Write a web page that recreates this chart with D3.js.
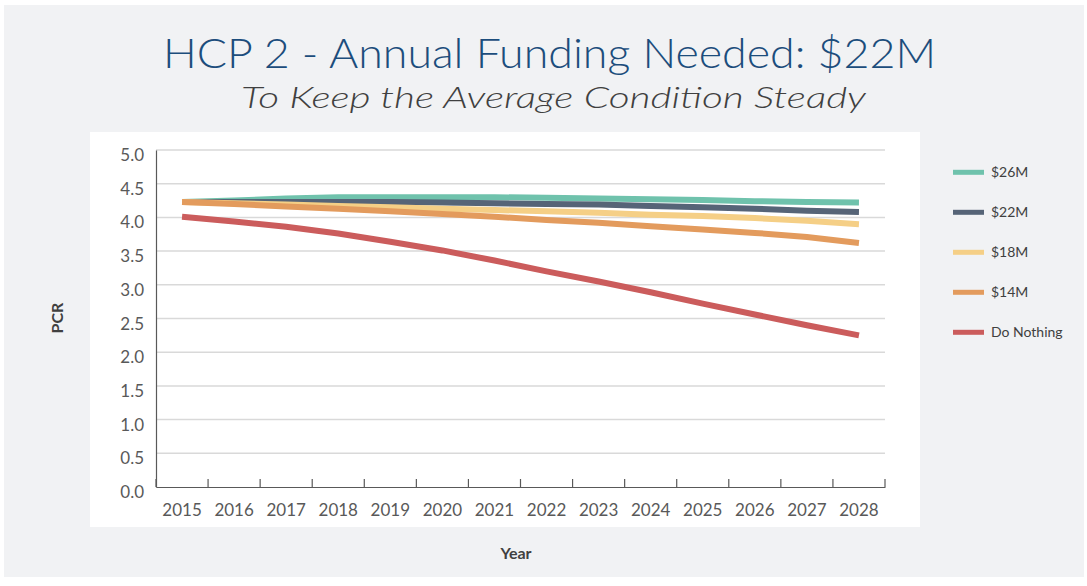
<!DOCTYPE html>
<html><head><meta charset="utf-8">
<script src="https://cdn.jsdelivr.net/npm/d3@7"></script>
<style>
html,body{margin:0;padding:0;background:#fff;}
svg{display:block;}
text{font-family:"Century Gothic","URW Gothic",Lato,"DejaVu Sans",sans-serif;}
</style></head>
<body>
<svg id="chart" width="1087" height="586"></svg>
<script>
const years = ["2015","2016","2017","2018","2019","2020","2021","2022","2023","2024","2025","2026","2027","2028"];
const yTicks = [0,0.5,1,1.5,2,2.5,3,3.5,4,4.5,5];
const seriesNames = ["$26M","$22M","$18M","$14M","Do Nothing"];
const seriesColors = ["#6fc2ac","#566477","#f5cf86","#e39b5d","#cb5c5c"];
const s26 = [4.23,4.25,4.28,4.30,4.30,4.30,4.30,4.29,4.28,4.27,4.26,4.24,4.23,4.22];
const s22 = [4.23,4.23,4.23,4.23,4.23,4.22,4.21,4.20,4.19,4.17,4.15,4.13,4.10,4.08];
const s18 = [4.23,4.21,4.19,4.17,4.15,4.13,4.11,4.09,4.07,4.04,4.02,3.99,3.95,3.90];
const s14 = [4.23,4.20,4.16,4.13,4.09,4.05,4.01,3.96,3.92,3.87,3.82,3.77,3.71,3.62];
const sNothing = [4.01,3.94,3.86,3.76,3.64,3.51,3.36,3.20,3.05,2.89,2.72,2.56,2.40,2.25];
const seriesValues = [s26,s22,s18,s14,sNothing];

const svg = d3.select("#chart");
// backgrounds
svg.append("rect").attr("x",4).attr("y",5).attr("width",1080).attr("height",572).attr("fill","#f1f2f4");
svg.append("rect").attr("x",90).attr("y",132).attr("width",830).attr("height",395).attr("fill","#ffffff");

// titles
svg.append("text").attr("x",549.5).attr("y",68).attr("text-anchor","middle")
  .attr("font-size",41).attr("font-weight",300).attr("fill","#1c4d7c")
  .attr("textLength",773).attr("lengthAdjust","spacingAndGlyphs")
  .text("HCP 2 - Annual Funding Needed: $22M");
svg.append("text").attr("x",553.5).attr("y",108).attr("text-anchor","middle")
  .attr("font-size",30).attr("font-weight",300).attr("font-style","italic").attr("fill","#404040")
  .attr("textLength",625).attr("lengthAdjust","spacingAndGlyphs")
  .text("To Keep the Average Condition Steady");

const x = d3.scaleBand().domain(years).range([156,885]);
const y = d3.scaleLinear().domain([0,5]).range([487,150]);

// gridlines
svg.append("g").selectAll("line").data(yTicks.filter(d=>d>0)).join("line")
  .attr("x1",156).attr("x2",885).attr("y1",d=>y(d)).attr("y2",d=>y(d))
  .attr("stroke","#d9d9d9").attr("stroke-width",1.5);

// y axis
const yAxis = svg.append("g").attr("transform","translate(156,0)")
  .call(d3.axisLeft(y).tickValues(yTicks).tickFormat(d3.format(".1f")).tickSize(0).tickPadding(12));
yAxis.select(".domain").attr("stroke","#595959").attr("stroke-width",1.2);
yAxis.selectAll("text").attr("font-size",17).attr("fill","#595959").attr("dy","0.62em")
  .style("font-family",'"Century Gothic","URW Gothic",Lato,sans-serif');

// x axis
const xAxis = svg.append("g").attr("transform","translate(0,487)")
  .call(d3.axisBottom(x).tickSize(0).tickPadding(17));
xAxis.select(".domain").attr("stroke","#595959").attr("stroke-width",1.2);
xAxis.selectAll("text").attr("font-size",17).attr("fill","#595959")
  .style("font-family",'"Century Gothic","URW Gothic",Lato,sans-serif');
// boundary tick marks (pointing up)
const bounds = years.map(d=>x(d)).concat([x(years[years.length-1])+x.bandwidth()]);
svg.append("g").selectAll("line").data(bounds).join("line")
  .attr("x1",d=>d).attr("x2",d=>d).attr("y1",479).attr("y2",487)
  .attr("stroke","#595959").attr("stroke-width",1.2);

// lines
const line = d3.line().x((d,i)=>x(years[i])+x.bandwidth()/2).y(d=>y(d));
svg.append("g").selectAll("path").data(seriesValues).join("path")
  .attr("d",d=>line(d)).attr("fill","none")
  .attr("stroke",(d,i)=>seriesColors[i]).attr("stroke-width",6)
  .attr("stroke-linejoin","round");

// axis titles
svg.append("text").attr("transform","translate(63,318) rotate(-90)").attr("text-anchor","middle")
  .attr("font-size",16).attr("font-weight","bold").attr("fill","#404040").text("PCR");
svg.append("text").attr("x",516).attr("y",559).attr("text-anchor","middle")
  .attr("font-size",16).attr("font-weight","bold").attr("fill","#404040").text("Year");

// legend
const lg = svg.append("g").selectAll("g").data(seriesNames).join("g")
  .attr("transform",(d,i)=>`translate(953,${172.3+i*40})`);
lg.append("line").attr("x1",0).attr("x2",31).attr("y1",0).attr("y2",0)
  .attr("stroke",(d,i)=>seriesColors[i]).attr("stroke-width",5);
lg.append("text").attr("x",38).attr("y",0).attr("dy","0.35em")
  .attr("font-size",14).attr("fill","#404040").text(d=>d);
</script>
</body></html>
